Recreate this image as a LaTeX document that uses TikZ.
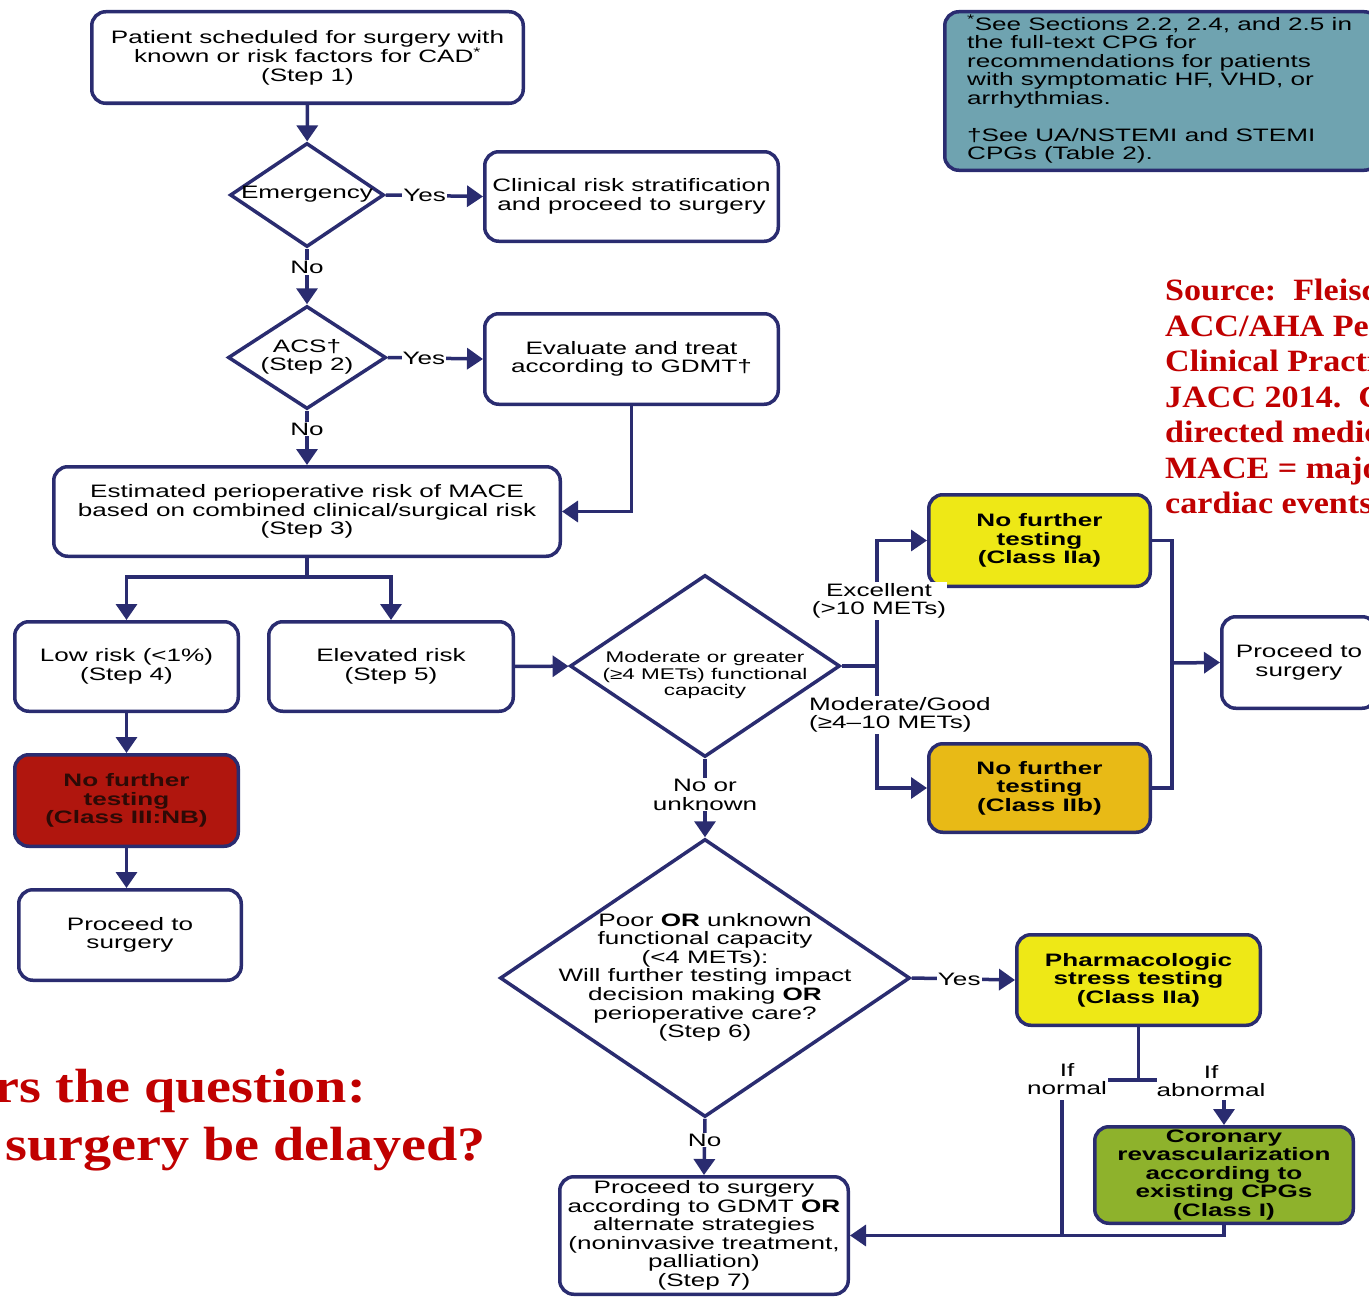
\documentclass[tikz,border=0pt]{standalone}
\usepackage{fontspec}
\setmainfont{Liberation Sans}[FakeStretch=1.45]
\newfontfamily\srcfont{Liberation Serif}[FakeStretch=1.1]
\newfontfamily\askfont{Liberation Serif}[FakeStretch=1.17]
\usetikzlibrary{shapes.geometric,arrows.meta}
\definecolor{linecol}{RGB}{42,44,112}
\definecolor{notecol}{RGB}{111,163,176}
\definecolor{yelcol}{RGB}{238,232,22}
\definecolor{ambcol}{RGB}{232,186,22}
\definecolor{redbox}{RGB}{176,22,14}
\definecolor{grncol}{RGB}{142,178,44}
\definecolor{srccol}{RGB}{192,0,0}
\newcommand{\dtext}[2][0pt]{\smash{\makebox[0pt]{\raisebox{\dimexpr-4.5pt-#1\relax}{\begin{tabular}{@{}c@{}}#2\end{tabular}}}}}
\begin{document}
\begin{tikzpicture}
[x=1pt,y=-1pt,
  font=\fontsize{18}{18.5}\selectfont,
  boxdecorate/.style={shape=rectangle,rounded corners=14pt,draw=linecol,line width=3.5pt,fill=white,align=center,inner sep=2pt},%
  diamdecorate/.style={shape=diamond,draw=linecol,line width=3.5pt,fill=white,inner sep=0pt},%
  linedecorate/.style={-,draw=linecol,line width=3.5pt},%
  arrowdecorate/.style={linedecorate,-{Triangle[length=16pt,width=21pt]}},%
  lbldecorate/.style={fill=white,inner sep=1pt,align=center},%
  srcdecorate/.style={text=srccol,font=\srcfont\bfseries\fontsize{31}{35.5}\selectfont,inner sep=0pt}]
\useasboundingbox (0,0) rectangle (1369,1298);
%% nodes or vertices
\node (s1) at (307.5,57.5) [boxdecorate,minimum width=431.5,minimum height=91.5]
  {Patient scheduled for surgery with\\known or risk factors for CAD\textsuperscript{*}\\(Step 1)};
\node (emerg) at (307,195) [diamdecorate,minimum width=154,minimum height=104] {\dtext{Emergency}};
\node (clin) at (631.5,196.5) [boxdecorate,minimum width=293.5,minimum height=89.5]
  {Clinical risk stratification\\and proceed to surgery};
\node (acs) at (307,357.5) [diamdecorate,minimum width=158,minimum height=103] {\dtext{ACS†\\(Step 2)}};
\node (eval) at (631.5,359) [boxdecorate,minimum width=293.5,minimum height=90.5]
  {Evaluate and treat\\according to GDMT†};
\node (s3) at (307,511.5) [boxdecorate,minimum width=506.5,minimum height=89.5]
  {Estimated perioperative risk of MACE\\based on combined clinical/surgical risk\\(Step 3)};
\node (low) at (126.5,666.5) [boxdecorate,minimum width=223.5,minimum height=89.5] {Low risk (<1\%)\\(Step 4)};
\node (elev) at (391,666.5) [boxdecorate,minimum width=244.5,minimum height=89.5] {Elevated risk\\(Step 5)};
\node (mod) at (705,666) [diamdecorate,minimum width=270,minimum height=182,font=\fontsize{15.5}{16.5}\selectfont]
  {\dtext[9pt]{Moderate or greater\\(≥4 METs) functional\\capacity}};
\node (nf2a) at (1039.5,540.5) [boxdecorate,fill=yelcol,minimum width=221.5,minimum height=91.5,font=\fontsize{18}{18.5}\selectfont\bfseries]
  {No further\\testing\\(Class IIa)};
\node (nf2b) at (1039.5,788) [boxdecorate,fill=ambcol,minimum width=221.5,minimum height=88.5,font=\fontsize{18}{18.5}\selectfont\bfseries]
  {No further\\testing\\(Class IIb)};
\node (procR) at (1299,662.5) [boxdecorate,minimum width=154.5,minimum height=91.5] {Proceed to\\surgery};
\node (nf3) at (126.5,800.5) [boxdecorate,fill=redbox,text={rgb,255:red,45;green,10;blue,6},minimum width=223.5,minimum height=91.5,font=\fontsize{18}{18.5}\selectfont\bfseries]
  {No further\\testing\\(Class III:NB)};
\node (procL) at (130,935) [boxdecorate,minimum width=222.5,minimum height=90.5] {Proceed to\\surgery};
\node (s6) at (705,978) [diamdecorate,minimum width=410,minimum height=278]
  {\dtext{Poor \textbf{OR} unknown\\functional capacity\\(<4 METs):\\Will further testing impact\\decision making \textbf{OR}\\perioperative care?\\(Step 6)}};
\node (pharm) at (1138.5,980) [boxdecorate,fill=yelcol,minimum width=243.5,minimum height=90.5,font=\fontsize{18}{18.5}\selectfont\bfseries]
  {Pharmacologic\\stress testing\\(Class IIa)};
\node (cor) at (1224,1175) [boxdecorate,fill=grncol,minimum width=258.5,minimum height=96.5,font=\fontsize{18}{18.5}\selectfont\bfseries]
  {Coronary\\revascularization\\according to\\existing CPGs\\(Class I)};
\node (s7) at (704,1235.5) [boxdecorate,minimum width=288.5,minimum height=117.5]
  {Proceed to surgery\\according to GDMT \textbf{OR}\\alternate strategies\\(noninvasive treatment,\\palliation)\\(Step 7)};
\node (note) at (1161.5,91) [boxdecorate,fill=notecol,minimum width=433.5,minimum height=158.5] {};
\node (notetext) at (967,15) [anchor=north west,align=left,inner sep=0pt]
  {\textsuperscript{*}See Sections 2.2, 2.4, and 2.5 in\\the full-text CPG for\\recommendations for patients\\with symptomatic HF, VHD, or\\arrhythmias.\\[18.5pt]†See UA/NSTEMI and STEMI\\CPGs (Table 2).};
\node (source) at (1165,279) [srcdecorate,anchor=north west,align=left]
  {Source:\ \ Fleischer\\ACC/AHA Perioperative\\Clinical Practice\\JACC 2014.\ \ GDMT\\directed medical\\MACE = major\\cardiac events};
\node (q1) at (366,1102) [srcdecorate,anchor=base east,font=\askfont\bfseries\fontsize{48}{57}\selectfont] {rs the question:};
\node (q2) at (486,1160) [srcdecorate,anchor=base east,font=\askfont\bfseries\fontsize{48}{57}\selectfont] {surgery be delayed?};
%% junction points
\coordinate (split) at (307,577);
\coordinate (br) at (877,666);
\coordinate (mg) at (1172,663);
\coordinate (tee) at (1138.5,1080);
\coordinate (teeL) at (1108,1080);
\coordinate (teeR) at (1157,1080);
\coordinate (nrm) at (1062,1100);
\coordinate (abn) at (1224,1100);
%% edges or lines
\path
\foreach \startnode/\endnode in {s1/emerg, low/nf3, elev/mod} {
  (\startnode) edge[arrowdecorate] (\endnode)
};
\draw[arrowdecorate] (nf3.south) -- (nf3.south |- procL.north);
\draw[arrowdecorate] (emerg.east) -- node[lbldecorate,pos=0.4] {Yes} (clin.west);
\draw[arrowdecorate] (acs.east) -- node[lbldecorate,pos=0.38] {Yes} (eval.west);
\draw[arrowdecorate] (emerg.south) -- node[lbldecorate,pos=0.34] {No} (acs.north);
\draw[arrowdecorate] (acs.south) -- node[lbldecorate,pos=0.34] {No} (s3.north);
\draw[arrowdecorate] (eval.south) |- (s3.east);
\draw[linedecorate] (s3.south) -- (split);
\draw[arrowdecorate] (split) -| (low.north);
\draw[arrowdecorate] (split) -| (elev.north);
\draw[linedecorate] (mod.east) -- (br);
\draw[arrowdecorate] (br) |- (nf2a.west);
\draw[arrowdecorate] (br) |- (nf2b.west);
\node (exc) at (879,601) [lbldecorate] {Excellent\\(>10 METs)};
\node (modg) at (808,715) [lbldecorate,anchor=west,align=left] {Moderate/Good\\(≥4–10 METs)};
\draw[linedecorate] (nf2a.east) -| (mg) |- (nf2b.east);
\draw[arrowdecorate] (mg) -- (procR.west);
\draw[arrowdecorate] (mod.south) -- node[lbldecorate,pos=0.46] {No or\\unknown} (s6.north);
\draw[arrowdecorate] (s6.east) -- node[lbldecorate,pos=0.46] {Yes} (pharm.west);
\draw[arrowdecorate] (s6.south) -- node[lbldecorate,pos=0.38] {No} (s7.north);
\draw[linedecorate] (pharm.south) -- (tee);
\draw[linedecorate] (teeL) -- (teeR);
\node (ifn) at (1067,1079) [align=center,inner sep=0pt] {If\\normal};
\node (ifa) at (1211,1081) [align=center,inner sep=0pt] {If\\abnormal};
\draw[arrowdecorate] (abn) -- (cor.north);
\draw[linedecorate] (nrm) -- (nrm |- s7.east);
\draw[arrowdecorate] (cor.south) |- (s7.east);
\end{tikzpicture}
\end{document}
